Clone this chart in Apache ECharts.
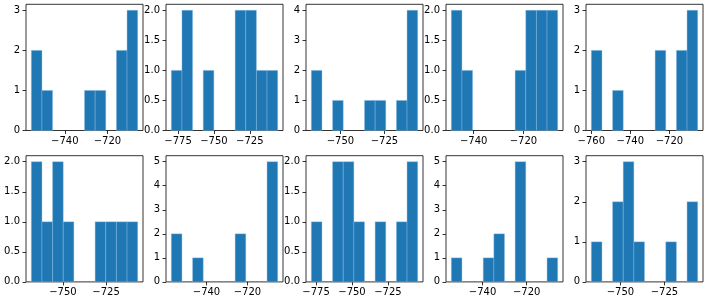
<!DOCTYPE html>
<html>
<head>
<meta charset="utf-8">
<script src="https://cdn.jsdelivr.net/npm/echarts@6/dist/echarts.min.js"></script>
<style>
html,body{margin:0;padding:0;background:#fff;}
#chart{width:709px;height:299px;}
</style>
</head>
<body>
<div id="chart"></div>
<script>
// Histogram counts (10 bins each), panels left-to-right, top row then bottom row
const counts = [
  [2,1,0,0,0,1,1,0,2,3],
  [1,2,0,1,0,0,2,2,1,1],
  [2,0,1,0,0,1,1,0,1,4],
  [2,1,0,0,0,0,1,2,2,2],
  [2,0,1,0,0,0,2,0,2,3],
  [2,1,2,1,0,0,1,1,1,1],
  [2,0,1,0,0,0,2,0,0,5],
  [1,0,2,2,1,0,1,0,1,2],
  [1,0,0,1,2,0,5,0,0,1],
  [1,0,2,3,1,0,0,1,0,2]
];
// Data range (min, max) of each panel's sample
const dataMin = [-755.7, -779.7, -766.5, -749.0, -760.0, -768.3, -757.2, -778.3, -754.2, -766.5];
const dataMax = [-705.8, -705.6, -706.1, -706.2, -705.5, -706.7, -705.2, -704.3, -705.9, -706.1];
// Tick values
const xTicks = [
  [-740,-720],
  [-775,-750,-725],
  [-750,-725],
  [-740,-720],
  [-760,-740,-720],
  [-750,-725],
  [-740,-720],
  [-775,-750,-725],
  [-740,-720],
  [-750,-725]
];
const yTicks = [
  [0,1,2,3],
  [0,0.5,1,1.5,2],
  [0,1,2,3,4],
  [0,0.5,1,1.5,2],
  [0,1,2,3],
  [0,0.5,1,1.5,2],
  [0,1,2,3,4,5],
  [0,0.5,1,1.5,2],
  [0,1,2,3,4,5],
  [0,1,2,3]
];

const NB = 10;
const grids = [], xAxes = [], yAxes = [], series = [];
const font = 'DejaVu Sans';
for (let i = 0; i < counts.length; i++) {
  const r = Math.floor(i / 5), c = i % 5;
  grids.push({
    left: 26 + 140 * c, top: r === 0 ? 4.3 : 155.7, width: 117, height: 126.2,
    show: true, borderColor: '#000', borderWidth: 0.8, backgroundColor: 'transparent'
  });
  const lo = dataMin[i], hi = dataMax[i], span = hi - lo;
  const ymaxCount = Math.max.apply(null, counts[i]);
  const half = yTicks[i][1] === 0.5;
  xAxes.push({
    type: 'value', gridIndex: i,
    min: lo - 0.05 * span, max: hi + 0.05 * span,
    splitLine: {show: false},
    axisLine: {show: false},
    axisTick: {show: true, inside: false, length: 3.5, customValues: xTicks[i], lineStyle: {color: '#000', width: 0.8}},
    axisLabel: {
      show: true, customValues: xTicks[i], margin: 6, color: '#000',
      fontFamily: font, fontSize: 10,
      formatter: v => (v < 0 ? '\u2212' : '') + Math.abs(v)
    }
  });
  yAxes.push({
    type: 'value', gridIndex: i,
    min: 0, max: ymaxCount * 1.05,
    splitLine: {show: false},
    axisLine: {show: false},
    axisTick: {show: true, inside: false, length: 3.5, customValues: yTicks[i], lineStyle: {color: '#000', width: 0.8}},
    axisLabel: {
      show: true, customValues: yTicks[i], margin: 6, color: '#000',
      fontFamily: font, fontSize: 10,
      formatter: v => half ? v.toFixed(1) : String(Math.round(v))
    }
  });
  const d = [];
  for (let k = 0; k < NB; k++) {
    if (counts[i][k] > 0) d.push([lo + span * k / NB, lo + span * (k + 1) / NB, counts[i][k]]);
  }
  series.push({
    type: 'custom', xAxisIndex: i, yAxisIndex: i, data: d, silent: true,
    renderItem: function (params, api) {
      const p0 = api.coord([api.value(0), 0]);
      const p1 = api.coord([api.value(1), api.value(2)]);
      return {
        type: 'rect',
        shape: {x: p0[0], y: p1[1], width: p1[0] - p0[0], height: p0[1] - p1[1]},
        style: {fill: '#1f77b4', stroke: 'rgba(140,190,230,0.8)', lineWidth: 0.5}
      };
    }
  });
}
const chart = echarts.init(document.getElementById('chart'), null, {renderer: 'canvas'});
chart.setOption({animation: false, grid: grids, xAxis: xAxes, yAxis: yAxes, series: series});
</script>
</body>
</html>
